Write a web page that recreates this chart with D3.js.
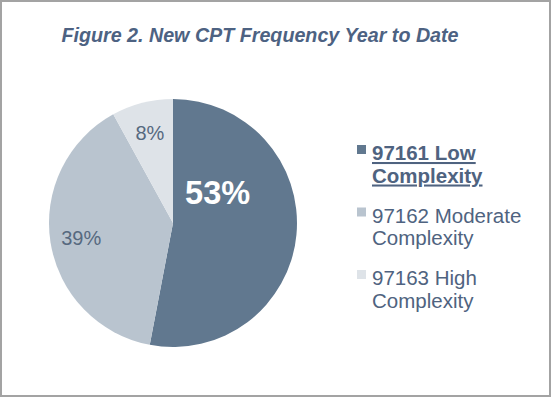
<!DOCTYPE html>
<html>
<head>
<meta charset="utf-8">
<script src="https://cdn.jsdelivr.net/npm/d3@7"></script>
<style>
  body { margin: 0; background: #fff; }
  svg text { font-family: "Liberation Sans", Arial, sans-serif; }
</style>
</head>
<body>
<div id="vis"></div>
<script>
var categories = ["97161 Low Complexity", "97162 Moderate Complexity", "97163 High Complexity"];
var legendLines = [["97161 Low", "Complexity"], ["97162 Moderate", "Complexity"], ["97163 High", "Complexity"]];
var values = [53, 39, 8];
var labels = ["53%", "39%", "8%"];
var colors = ["#61788f", "#b9c4cf", "#dee3e8"];

var width = 552, height = 399;

var svg = d3.select("#vis")
            .append("svg")
            .attr("width", width)
            .attr("height", height);

// frame
svg.append("rect")
   .attr("x", 1).attr("y", 1)
   .attr("width", 549).attr("height", 395)
   .attr("fill", "#fff")
   .attr("stroke", "#a3a3a3")
   .attr("stroke-width", 2);

svg.append("text")
   .attr("x", 260)
   .attr("y", 42)
   .attr("text-anchor", "middle")
   .attr("font-size", 19.7)
   .attr("font-weight", "bold")
   .attr("font-style", "italic")
   .attr("fill", "#4d6282")
   .text("Figure 2. New CPT Frequency Year to Date");

////////// pie //////////
var cx = 173, cy = 223, r = 124;

var pie = d3.pie().sort(null).value(function(d) { return d; });
var arcs = pie(values);
var arc = d3.arc().innerRadius(0).outerRadius(r);
var labelArc = d3.arc().innerRadius(r * 0.75).outerRadius(r * 0.75);

var g = svg.append("g").attr("transform", "translate(" + cx + "," + cy + ")");

g.selectAll("path")
 .data(arcs)
 .enter()
 .append("path")
 .attr("d", arc)
 .attr("fill", function(d, i) { return colors[i]; });

// first label sits up and in, like the original
var labelShift = [[-48, -39], [0, 0], [0, 0]];

g.selectAll(".lbl")
 .data(arcs)
 .enter()
 .append("text")
 .attr("class", "lbl")
 .attr("transform", function(d, i) {
   var c = labelArc.centroid(d);
   return "translate(" + (c[0] + labelShift[i][0]) + "," + (c[1] + labelShift[i][1]) + ")";
 })
 .attr("dy", "0.35em")
 .attr("text-anchor", "middle")
 .attr("font-size", function(d, i) { return i == 0 ? 32.5 : 20; })
 .attr("font-weight", function(d, i) { return i == 0 ? "bold" : "normal"; })
 .attr("fill", function(d, i) { return i == 0 ? "#ffffff" : "#56697f"; })
 .text(function(d, i) { return labels[i]; });

////////// legend //////////
var legend = svg.append("g").attr("transform", "translate(357,0)");
var itemY = d3.scalePoint().domain(categories).range([160, 285]);

var items = legend.selectAll(".item")
  .data(categories)
  .enter()
  .append("g")
  .attr("class", "item")
  .attr("transform", function(d) { return "translate(0," + itemY(d) + ")"; });

items.append("rect")
  .attr("x", 0).attr("y", -15)
  .attr("width", 9).attr("height", 9)
  .attr("fill", function(d, i) { return colors[i]; });

items.each(function(d, i) {
  var t = d3.select(this).append("text")
    .attr("x", 15)
    .attr("font-size", 20.5)
    .attr("fill", "#4f6380")
    .attr("font-weight", i == 0 ? "bold" : "normal")
    .attr("text-decoration", i == 0 ? "underline" : null);
  legendLines[i].forEach(function(line, j) {
    t.append("tspan").attr("x", 15).attr("y", j * 22.5).text(line);
  });
});
</script>
</body>
</html>
